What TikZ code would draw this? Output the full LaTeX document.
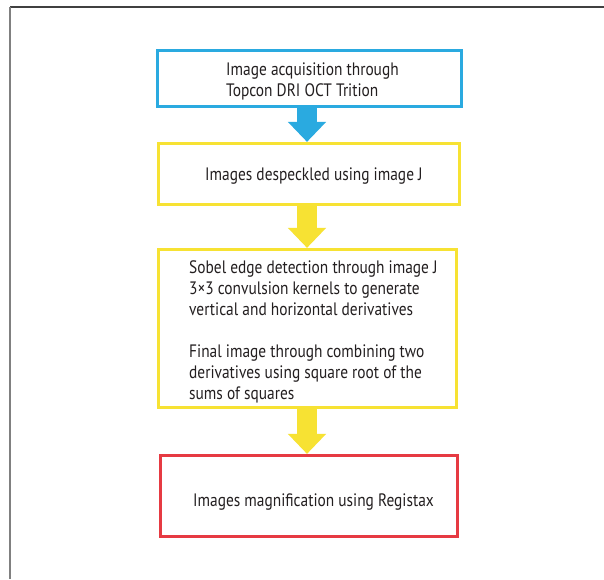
\documentclass[tikz,border=0pt]{standalone}
\usepackage{fontspec}
\setmainfont[FakeStretch=0.855]{PT Sans}
\usetikzlibrary{arrows.meta}
\definecolor{bboxc}{HTML}{2AAAE0}
\definecolor{yboxc}{HTML}{F7E233}
\definecolor{rboxc}{HTML}{E63A42}
\definecolor{txtc}{HTML}{231F20}
\begin{document}
\begin{tikzpicture}[x=1pt,y=-1pt,
  box/.style={draw, line width=3.2pt, minimum width=#1, inner sep=0pt},
  lbl/.style={anchor=west, align=left, inner sep=0pt, text=txtc, font=\fontsize{18}{21}\selectfont},
  blockarrow/.style={line width=20pt, -{Triangle[width=37pt,length=20pt]}}]
\useasboundingbox (0,0) rectangle (604,579);
\fill[white] (0,0) rectangle (604,579);
% frame
\draw[color=black!75, line width=1.4pt] (604,7) -- (10,7);
\draw[color=black!50, line width=1.4pt] (10,7) -- (10,579);
% boxes
\node[box=304pt, minimum height=56pt, draw=bboxc] (b1) at (309.5,78.5) {};
\node[box=301pt, minimum height=61pt, draw=yboxc] (b2) at (309,174) {};
\node[box=298pt, minimum height=158pt, draw=yboxc] (b3) at (307.5,328.5) {};
\node[box=297pt, minimum height=81pt, draw=rboxc] (b4) at (309,496) {};
% texts
\node[lbl] (t1) at (226,81) {Image acquisition through\\Topcon DRI OCT Trition};
\node[lbl] (t2) at (205,176) {Images despeckled using image J};
\node[lbl] (t3) at (189,332) {Sobel edge detection through image J\\3×3 convulsion kernels to generate\\vertical and horizontal derivatives\\[21pt]Final image through combining two\\derivatives using square root of the\\sums of squares};
\node[lbl] (t4) at (193,502) {Images magnification using Registax};
% arrows
\coordinate (ax) at (307,0);
\draw[blockarrow, draw=bboxc, fill=bboxc] (b1.south -| ax) ++(0,-1.6) -- (b2.north -| ax);
\draw[blockarrow, draw=yboxc, fill=yboxc] (b2.south -| ax) ++(0,-1.6) -- (b3.north -| ax);
\draw[blockarrow, draw=yboxc, fill=yboxc] (b3.south -| ax) ++(0,-1.6) -- (b4.north -| ax);
\end{tikzpicture}
\end{document}
